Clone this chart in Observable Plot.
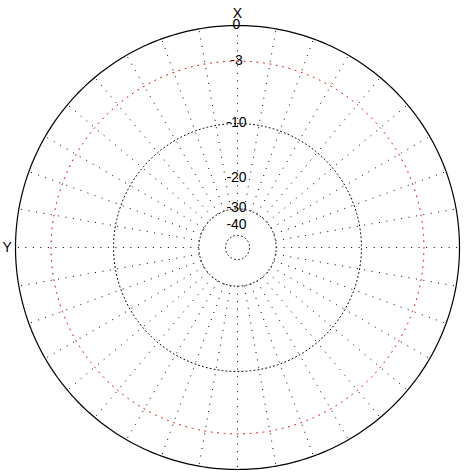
<!DOCTYPE html>
<html>
<head>
<meta charset="utf-8">
<script src="https://cdn.jsdelivr.net/npm/d3@7"></script>
<script src="https://cdn.jsdelivr.net/npm/@observablehq/plot@0.6"></script>
<style>
  html, body { margin: 0; padding: 0; background: #fff; }
  svg { display: block; }
</style>
</head>
<body>
<div id="chart"></div>
<script>
// ARRL-style log scale grid (dB)
const outerRing = [0];
const redRings = [-3];
const dottedRings = [-10, -30, -50];
const tickValues = [0, -3, -10, -20, -30, -40];
const tickLabels = ["0", "-3", "-10", "-20", "-30", "-40"];
const spokeAngles = d3.range(0, 360, 10);
const spokeInner = -30;
const spokeOuter = 0;
const axisNames = ["X", "Y"];

const W = 464, H = 475, CX = 237, CY = 247, R = 222;
const rad = db => Math.pow(0.89, -db / 2);

function circlePts(db) {
  const r = rad(db);
  return d3.range(0, 361, 1).map(a => ({
    db, x: r * Math.sin(a * Math.PI / 180), y: r * Math.cos(a * Math.PI / 180)
  }));
}
const outerData = outerRing.flatMap(circlePts);
const redData = redRings.flatMap(circlePts);
const dotData = dottedRings.flatMap(circlePts);
const spokes = spokeAngles.map(a => {
  const t = a * Math.PI / 180;
  return {
    x1: rad(spokeInner) * Math.sin(t), y1: rad(spokeInner) * Math.cos(t),
    x2: rad(spokeOuter) * Math.sin(t), y2: rad(spokeOuter) * Math.cos(t)
  };
});
const ticks = tickValues.map((v, i) => ({ x: 0, y: rad(v), label: tickLabels[i] }));

const plot = Plot.plot({
  width: W, height: H,
  margin: 0,
  x: { domain: [-CX / R, (W - CX) / R], axis: null },
  y: { domain: [-(H - CY) / R, CY / R], axis: null },
  style: { fontFamily: "'Liberation Sans', Arial, sans-serif", background: "#fff" },
  marks: [
    Plot.link(spokes, { x1: "x1", y1: "y1", x2: "x2", y2: "y2", stroke: "#000", strokeWidth: 1, strokeDasharray: "1,6.5" }),
    Plot.line(dotData, { x: "x", y: "y", z: "db", stroke: "#000", strokeWidth: 1, strokeDasharray: "1,3", curve: "linear" }),
    Plot.line(redData, { x: "x", y: "y", z: "db", stroke: "#e00000", strokeWidth: 1, strokeDasharray: "1,5.5", curve: "linear" }),
    Plot.line(outerData, { x: "x", y: "y", z: "db", stroke: "#000", strokeWidth: 1.2, curve: "linear" }),
    Plot.text(ticks, { x: "x", y: "y", text: "label", fontSize: 14, fill: "#000", textAnchor: "middle", dx: -1, dy: -1 }),
    Plot.text([axisNames[0]], { x: () => 0, frameAnchor: "top", dy: 8, fontSize: 14, fill: "#000", text: d => d }),
    Plot.text([axisNames[1]], { y: () => 0, frameAnchor: "left", dx: 2, fontSize: 14, fill: "#000", textAnchor: "start", text: d => d })
  ]
});
document.getElementById("chart").appendChild(plot);
</script>
</body>
</html>
